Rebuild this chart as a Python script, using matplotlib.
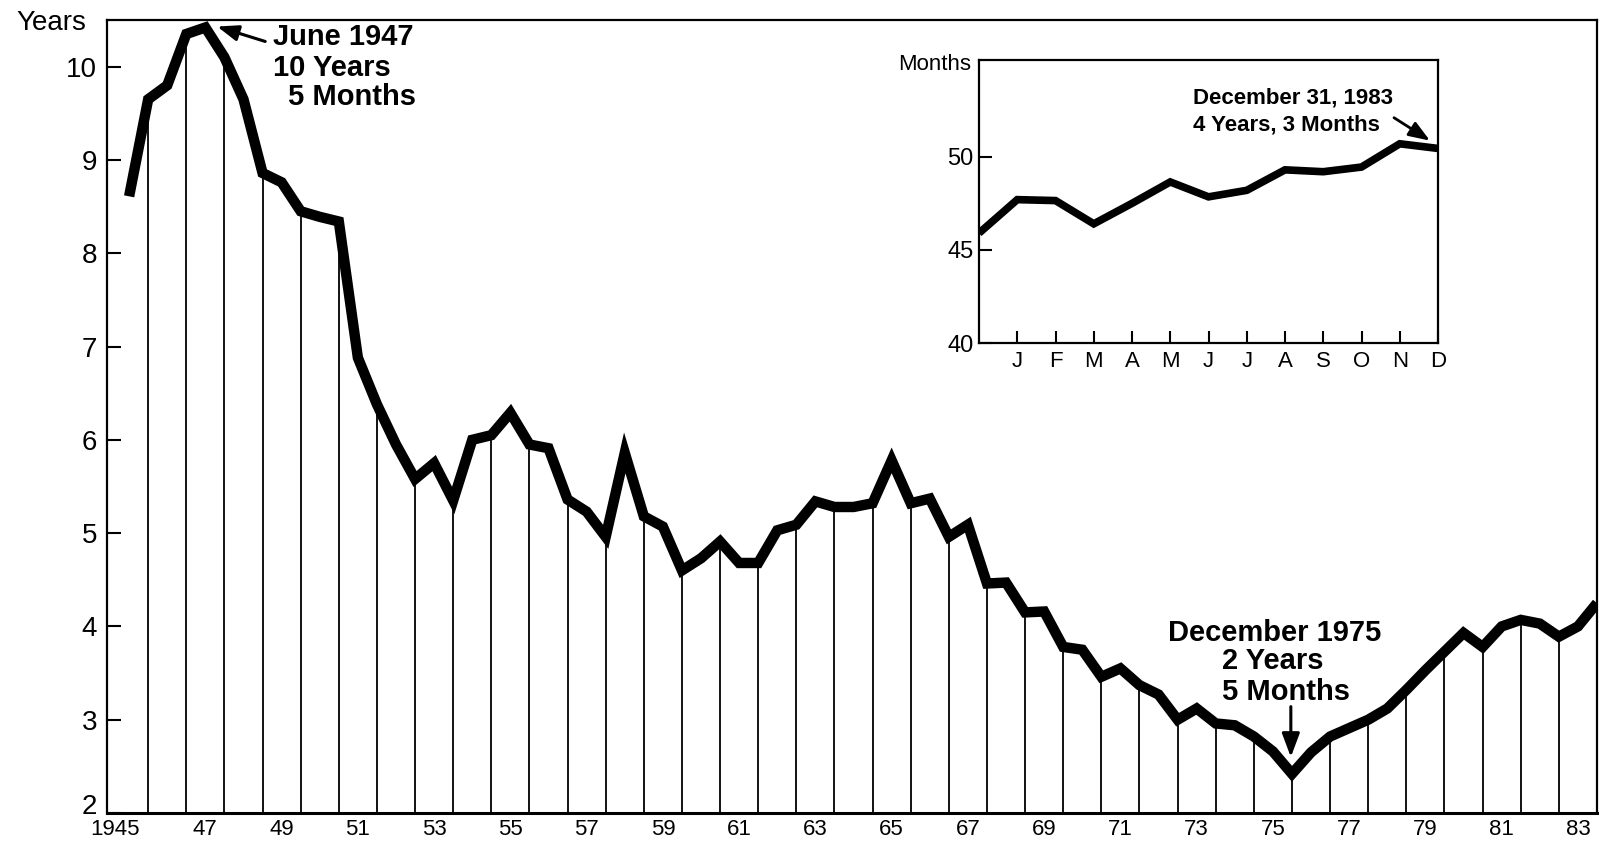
import matplotlib
matplotlib.use('Agg')
import matplotlib.pyplot as plt
from matplotlib.transforms import ScaledTranslation

plt.rcParams['font.family'] = ['Liberation Sans', 'DejaVu Sans']

# average length of the marketable debt, in years, end of June / end of December
years = list(range(1945, 1984))
june = [8.61, 9.80, 10.42, 9.65, 8.76, 8.39, 6.88, 5.95, 5.75, 6.00,
        6.29, 5.91, 5.23, 5.86, 5.07, 4.73, 4.68, 5.03, 5.34, 5.28,
        5.78, 5.37, 5.09, 4.47, 4.16, 3.75, 3.55, 3.27, 3.12, 2.94,
        2.66, 2.65, 2.91, 3.12, 3.53, 3.93, 4.00, 4.03, 4.00]
december = [9.65, 10.35, 10.10, 8.86, 8.45, 8.34, 6.38, 5.58, 5.35, 6.05,
            5.95, 5.36, 4.96, 5.18, 4.60, 4.91, 4.68, 5.09, 5.28, 5.32,
            5.32, 4.96, 4.46, 4.15, 3.78, 3.46, 3.37, 3.00, 2.96, 2.82,
            2.42, 2.82, 3.00, 3.32, 3.73, 3.78, 4.07, 3.89, 4.25]

# 1983 monthly, in months (first point = December 1982)
month_labels = ['J', 'F', 'M', 'A', 'M', 'J', 'J', 'A', 'S', 'O', 'N', 'D']
months_1983 = [45.9, 47.7, 47.65, 46.4, 47.5, 48.65, 47.85, 48.2, 49.3,
               49.2, 49.45, 50.7, 50.45]

t, v = [], []
for y, a, b in zip(years, june, december):
    t += [y + 0.5, y + 1.0]
    v += [a, b]

W, H = 1600, 842
fig = plt.figure(figsize=(W / 100, H / 100), dpi=100)
ax = fig.add_axes([107 / W, 1 - 813 / H, (1597 - 107) / W, (813 - 20) / H])

ax.vlines([y + 1.0 for y in years[:-1]], 2, december[:-1], color='black', lw=1.3, zorder=1)
ax.plot(t, v, color='black', lw=7.5, solid_joinstyle='miter', solid_capstyle='butt', zorder=3)

ax.set_xlim(1944.92, 1984.0)
ax.set_ylim(2, 10.5)
ax.set_yticks(range(2, 11))
ax.tick_params(axis='y', direction='in', length=10, width=1.5, labelsize=20, pad=7)
ax.set_xticks([y + 0.5 for y in years[::2]])
ax.set_xticklabels(['1945'] + [str(y)[2:] for y in years[2::2]])
ax.tick_params(axis='x', length=0, labelsize=16, pad=4)
first = ax.get_xticklabels()[0]
first.set_transform(first.get_transform() + ScaledTranslation(-0.14, 0, fig.dpi_scale_trans))
low = ax.get_yticklabels()[0]
low.set_transform(low.get_transform() + ScaledTranslation(0, 0.09, fig.dpi_scale_trans))
for s in ax.spines.values():
    s.set_linewidth(1.6)
ax.spines['bottom'].set_linewidth(2.2)

fig.text(16 / W, 1 - 23 / H, 'Years', ha='left', va='center', fontsize=20)

# June 1947 peak
bold = dict(fontweight='bold', fontsize=21, va='center')
ax.text(1949.28, 10.32, 'June 1947', ha='left', **bold)
ax.text(1949.28, 9.99, '10 Years', ha='left', **bold)
ax.text(1949.67, 9.67, '5 Months', ha='left', **bold)
ax.annotate('', xy=(1947.81, 10.43), xytext=(1949.07, 10.27),
            arrowprops=dict(arrowstyle='-|>,head_length=0.8,head_width=0.3',
                            color='black', lw=2.2, mutation_scale=16, shrinkA=0, shrinkB=0))

# December 1975 low
ax.text(1975.55, 3.93, 'December 1975', ha='center', **bold)
ax.text(1974.16, 3.63, '2 Years', ha='left', **bold)
ax.text(1974.16, 3.30, '5 Months', ha='left', **bold)
ax.annotate('', xy=(1975.97, 2.60), xytext=(1975.97, 3.14),
            arrowprops=dict(arrowstyle='-|>,head_length=0.8,head_width=0.3',
                            color='black', lw=2.2, mutation_scale=18, shrinkA=0, shrinkB=0))

# inset: 1983 by month
ax_in = fig.add_axes([979 / W, 1 - 343 / H, (1438 - 979) / W, (343 - 60) / H])
ax_in.set_facecolor('white')
ax_in.plot(range(13), months_1983, color='black', lw=5.5, solid_joinstyle='miter', solid_capstyle='butt')
ax_in.set_xlim(0, 12)
ax_in.set_ylim(40, 55.2)
ax_in.set_xticks(range(1, 13))
ax_in.set_xticklabels(month_labels)
ax_in.set_yticks([40, 45, 50])
ax_in.tick_params(axis='x', direction='in', length=9, width=1.5, labelsize=16, pad=6)
ax_in.tick_params(axis='y', direction='in', length=9, width=1.5, labelsize=17, pad=4)
for s in ax_in.spines.values():
    s.set_linewidth(1.6)
fig.text(971 / W, 1 - 64 / H, 'Months', ha='right', va='center', fontsize=16)

ibold = dict(fontweight='bold', fontsize=16, va='center', ha='left')
ax_in.text(5.59, 53.18, 'December 31, 1983', **ibold)
ax_in.text(5.59, 51.73, '4 Years, 3 Months', **ibold)
ax_in.annotate('', xy=(11.79, 50.87), xytext=(10.85, 52.1),
               arrowprops=dict(arrowstyle='-|>,head_length=0.8,head_width=0.3',
                               color='black', lw=2.0, mutation_scale=16, shrinkA=0, shrinkB=0))

fig.savefig('out.png', dpi=100, facecolor='white')
